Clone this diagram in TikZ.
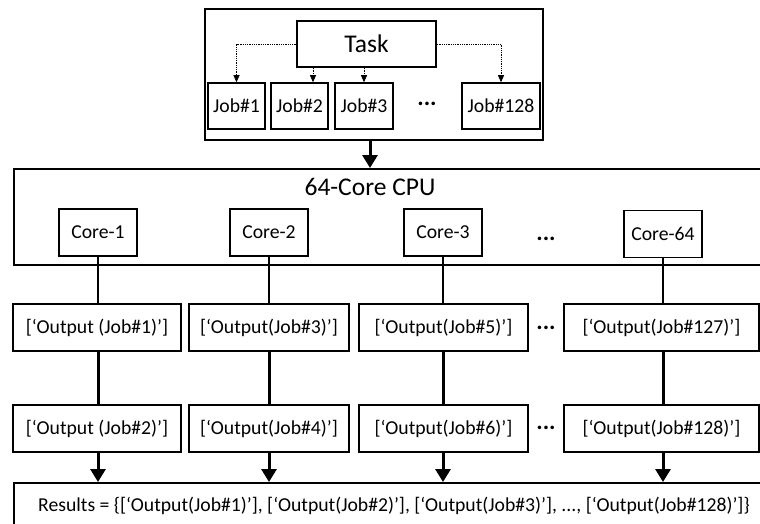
\documentclass[tikz,border=0pt]{standalone}
\usepackage{fontspec}
\setmainfont{Carlito}
\usetikzlibrary{arrows.meta}
\begin{document}
\begin{tikzpicture}[x=1pt,y=-1pt,
  box/.style={draw,line width=1.5pt,minimum height=47pt,inner sep=0pt,font=\fontsize{19.7}{23}\selectfont},
  outbox/.style={draw,line width=1.2pt,minimum height=47pt,inner sep=0pt,font=\fontsize{19.7}{23}\selectfont},
  frame/.style={draw,line width=2pt,inner sep=0pt},
  dotarrow/.style={densely dotted,line width=0.8pt,-{Triangle[width=6pt,length=7pt]}},
  thinline/.style={line width=1.1pt},
  bigarrow/.style={line width=3pt,-{Triangle[width=15pt,length=13pt]}},
  dots/.style={font=\fontsize{24}{28}\selectfont\bfseries},
  big/.style={font=\fontsize{25.5}{30}\selectfont}]
\useasboundingbox (0,0) rectangle (760,524);
\clip (0,0) rectangle (760,524);
% task split into jobs
\node[frame,minimum width=338pt,minimum height=131pt] (TaskBox) at (374,75) {};
\node[box,big,minimum width=139pt,minimum height=46pt] (Task) at (366.5,44) {Task};
\node[box,minimum width=57pt,minimum height=46pt] (J1) at (236.5,106) {Job\#1};
\node[box,minimum width=57pt,minimum height=46pt] (J2) at (299.5,106) {Job\#2};
\node[box,minimum width=58pt,minimum height=46pt] (J3) at (364,106) {Job\#3};
\node[box,minimum width=78pt,minimum height=46pt] (J128) at (501,106) {Job\#128};
\node[dots] (JD) at (427,104) {...};
\draw[dotarrow] (Task.west) -| (J1.north);
\draw[dotarrow] ([xshift=13.5pt]J2.north |- Task.south) -- ([xshift=13.5pt]J2.north);
\draw[dotarrow] (J3.north |- Task.south) -- (J3.north);
\draw[dotarrow] (Task.east) -| (J128.north);
% cpu
\node[frame,minimum width=760pt,minimum height=96pt,anchor=north west] (CPU) at (13,168) {};
\node[big] (CPUlabel) at (370,187) {64-Core CPU};
\draw[bigarrow] ([xshift=-4pt]TaskBox.south) -- ([xshift=-4pt]TaskBox.south |- CPU.north);
\node[box,minimum width=78pt] (C1) at (98,232.5) {Core-1};
\node[box,minimum width=78pt] (C2) at (269,232.5) {Core-2};
\node[box,minimum width=78pt] (C3) at (443,232.5) {Core-3};
\node[box,minimum width=78pt] (C64) at (663,234) {Core-64};
\node[dots] (CD) at (546,239) {...};
% outputs
\node[outbox,minimum width=168pt] (O1) at (97,327.5) {[‘Output (Job\#1)’]};
\node[outbox,minimum width=160pt] (O3) at (269,327.5) {[‘Output(Job\#3)’]};
\node[outbox,minimum width=169pt] (O5) at (443.5,327.5) {[‘Output(Job\#5)’]};
\node[outbox,minimum width=195pt] (O127) at (661.5,327.5) {[‘Output(Job\#127)’]};
\node[outbox,minimum width=168pt] (O2) at (97,428.5) {[‘Output (Job\#2)’]};
\node[outbox,minimum width=160pt] (O4) at (269,428.5) {[‘Output(Job\#4)’]};
\node[outbox,minimum width=169pt] (O6) at (443.5,428.5) {[‘Output(Job\#6)’]};
\node[outbox,minimum width=195pt] (O128) at (661.5,428.5) {[‘Output(Job\#128)’]};
\node[dots] (OD1) at (546,328) {...};
\node[dots] (OD2) at (546,428) {...};
% results
\node[frame,minimum width=760pt,minimum height=60pt,anchor=north west] (Res) at (13,482) {};
\node[font=\fontsize{19.7}{23}\selectfont,anchor=west,inner sep=0pt] (ResText) at (38,506)
  {Results = \{[‘Output(Job\#1)’], [‘Output(Job\#2)’], [‘Output(Job\#3)’], ..., [‘Output(Job\#128)’]\}};
\foreach \c/\a/\b in {C1/O1/O2,C2/O3/O4,C3/O5/O6,C64/O127/O128}{
  \draw[thinline] (\c.south) -- (\c.south |- \a.north);
  \draw[line width=3pt] (\c.south |- \a.south) -- (\c.south |- \b.north);
  \draw[bigarrow] (\c.south |- \b.south) -- (\c.south |- Res.north);
}
\end{tikzpicture}
\end{document}
